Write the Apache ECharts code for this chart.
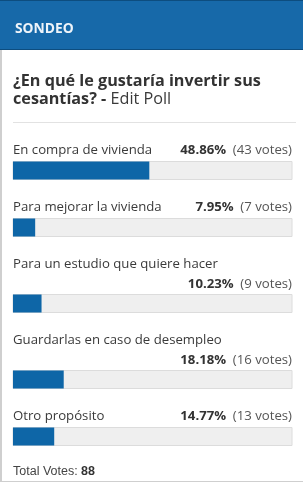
<!DOCTYPE html>
<html>
<head>
<meta charset="utf-8">
<script src="https://cdn.jsdelivr.net/npm/echarts@6/dist/echarts.min.js"></script>
<style>
html,body{margin:0;padding:0;background:#fff;}
#c{width:303px;height:485px;}
</style>
</head>
<body>
<div id="c"></div>
<script>
const headerText = 'SONDEO';
const questionBold = ['¿En qué le gustaría invertir sus', 'cesantías? - '];
const questionLink = 'Edit Poll';
const categories = ['En compra de vivienda', 'Para mejorar la vivienda', 'Para un estudio que quiere hacer', 'Guardarlas en caso de desempleo', 'Otro propósito'];
const percents = [48.86, 7.95, 10.23, 18.18, 14.77];
const votes = [43, 7, 9, 16, 13];
const totalVotes = 88;

const W = 303, H = 485;
const LEFT = 13, RIGHT = 292, BAR_H = 19;
const FONT = '"Open Sans", sans-serif';
const TXT = '#333';

const ctx = document.createElement('canvas').getContext('2d');
function measure(t, weight) { ctx.font = (weight || 'normal') + ' 13px "Open Sans"'; return ctx.measureText(t).width; }

const chart = echarts.init(document.getElementById('c'), null, {renderer: 'canvas'});

const grids = [], xAxes = [], yAxes = [], series = [];
const graphics = [
  {type: 'rect', shape: {x: 0, y: 0, width: W, height: 50}, style: {fill: '#1769a9'}, silent: true},
  {type: 'rect', shape: {x: 0, y: 49, width: W, height: 1}, style: {fill: '#0d4d7f'}, silent: true},
  {type: 'rect', shape: {x: 0, y: 0, width: W, height: 1}, style: {fill: '#0d4d7f'}, silent: true},
  {type: 'text', x: 15, y: 29, style: {text: headerText, fill: '#eef4fa', font: 'bold 13.8px ' + FONT, verticalAlign: 'middle'}},
  {type: 'rect', shape: {x: 0, y: 50, width: 2, height: 432}, style: {fill: '#cfcfcf'}, silent: true},
  {type: 'rect', shape: {x: 0, y: 481, width: W, height: 1}, style: {fill: '#cfcfcf'}, silent: true},
  {type: 'text', x: LEFT, y: 81, style: {text: questionBold[0], fill: TXT, font: 'bold 16.2px ' + FONT, verticalAlign: 'middle'}},
  {type: 'text', x: LEFT, y: 99, style: {text: '{b|' + questionBold[1] + '}{n|' + questionLink + '}', verticalAlign: 'middle',
    rich: {b: {fill: TXT, font: 'bold 16.2px ' + FONT}, n: {fill: '#3a3a3a', font: 'normal 16.2px ' + FONT}}}},
  {type: 'rect', shape: {x: LEFT, y: 122, width: 283, height: 1}, style: {fill: '#e2e2e2'}, silent: true}
];

let y = 150;
categories.forEach((name, i) => {
  const pctTxt = percents[i].toFixed(2) + '%';
  const voteTxt = '(' + votes[i] + ' votes)';
  const rightW = measure(pctTxt, 'bold') + measure(' ' + voteTxt) + 6;
  const wraps = measure(name) + 10 + rightW > (RIGHT - LEFT);
  graphics.push({type: 'text', x: LEFT, y: y, style: {text: name, fill: '#3a3a3a', font: '13.2px ' + FONT, verticalAlign: 'middle'}});
  let py = y;
  if (wraps) { py = y + 20; }
  graphics.push({type: 'text', x: RIGHT, y: py, style: {
    text: '{b|' + pctTxt + '}  {n|' + voteTxt + '}', align: 'right', verticalAlign: 'middle',
    rich: {b: {fill: TXT, font: 'bold 13.2px ' + FONT}, n: {fill: '#555', font: '13.2px ' + FONT}}}});
  const top = py + (wraps ? 10 : 11);
  grids.push({left: LEFT, top: top, width: RIGHT - LEFT, height: BAR_H});
  xAxes.push({type: 'value', gridIndex: i, min: 0, max: 100, show: false});
  yAxes.push({type: 'category', gridIndex: i, data: [name], show: false});
  series.push({type: 'bar', xAxisIndex: i, yAxisIndex: i, data: [percents[i]], barWidth: BAR_H - 1,
    itemStyle: {color: '#0e66a7'}, showBackground: true,
    backgroundStyle: {color: '#efefef', borderColor: '#dcdcdc', borderWidth: 1}, silent: true, animation: false});
  y = top + BAR_H + 27;
});

graphics.push({type: 'text', x: LEFT, y: y - 1, style: {
  text: '{n|Total Votes: }{b|' + totalVotes + '}', verticalAlign: 'middle',
  rich: {n: {fill: '#444', font: '12.5px "Liberation Sans", Arial, sans-serif'}, b: {fill: '#333', font: 'bold 12.5px "Liberation Sans", Arial, sans-serif'}}}});

chart.setOption({
  animation: false,
  grid: grids, xAxis: xAxes, yAxis: yAxes, series: series,
  graphic: {elements: graphics}
});
</script>
</body>
</html>
